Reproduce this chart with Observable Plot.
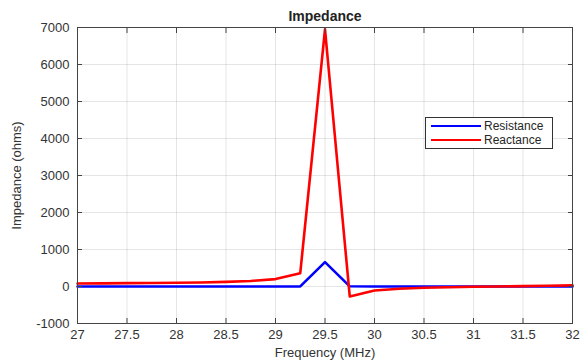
<!DOCTYPE html>
<html><head><meta charset="utf-8">
<script src="https://cdn.jsdelivr.net/npm/d3@7"></script>
<script src="https://cdn.jsdelivr.net/npm/@observablehq/plot@0.6"></script>
<style>
body{margin:0;background:#fff;font-family:"Liberation Sans",Arial,sans-serif;}
#wrap{position:relative;width:582px;height:360px;}
#legend{position:absolute;left:425px;top:117px;width:128px;height:32px;border:1px solid #333;background:#fff;font-size:12px;color:#262626;box-sizing:border-box;}
.row{position:absolute;left:5px;height:14px;display:flex;align-items:center;}
.sw{width:50px;height:0;border-top:2.5px solid;margin-right:3px;}
</style></head>
<body><div id="wrap"><div id="legend"></div></div>
<script>
const freq = [27,27.25,27.5,27.75,28,28.25,28.5,28.75,29,29.25,29.5,29.75,30,30.25,30.5,30.75,31,31.25,31.5,31.75,32];
const resistance = [0,0,0,0,0,0,0,0,0,2,660,5,0,0,0,0,0,0,0,0,0];
const reactance = [80,85,90,95,100,110,125,150,200,360,6950,-270,-110,-60,-35,-20,-8,0,10,20,30];
const seriesNames = ["Resistance","Reactance"];
const seriesColors = ["#0000ff","#ff0000"];
const xTicks = [27,27.5,28,28.5,29,29.5,30,30.5,31,31.5,32];
const yTicks = [-1000,0,1000,2000,3000,4000,5000,6000,7000];

const rows = [];
freq.forEach((f,i)=>{
  rows.push({f, v: resistance[i], s: seriesNames[0]});
  rows.push({f, v: reactance[i], s: seriesNames[1]});
});

const axisColor = "#444";
const chart = Plot.plot({
  width:582, height:360,
  marginLeft:77, marginRight:10, marginTop:27, marginBottom:37,
  style:{fontFamily:"'Liberation Sans', Arial, sans-serif", fontSize:"13px", color:"#333", background:"#fff"},
  x:{domain:[27,32]},
  y:{domain:[-1000,7000]},
  color:{domain:seriesNames, range:seriesColors},
  marks:[
    Plot.gridX(xTicks,{stroke:"#000", strokeOpacity:0.1}),
    Plot.gridY(yTicks,{stroke:"#000", strokeOpacity:0.1}),
    Plot.line(rows,{x:"f", y:"v", z:"s", stroke:"s", strokeWidth:2.6}),
    Plot.frame({stroke:axisColor, strokeWidth:1}),
    Plot.axisX(xTicks,{anchor:"bottom", tickSize:-5, text:null, label:null, stroke:axisColor}),
    Plot.axisX(xTicks,{anchor:"top", tickSize:-5, text:null, label:null, stroke:axisColor}),
    Plot.axisY(yTicks,{anchor:"left", tickSize:-5, text:null, label:null, stroke:axisColor}),
    Plot.axisY(yTicks,{anchor:"right", tickSize:-5, text:null, label:null, stroke:axisColor}),
    Plot.axisX(xTicks,{anchor:"bottom", tickSize:0, tickPadding:6, fill:"#333", fontSize:13, label:"Frequency (MHz)", labelAnchor:"center", labelOffset:33, labelArrow:"none", tickFormat:d=>String(d)}),
    Plot.axisY(yTicks,{anchor:"left", tickSize:0, tickPadding:8, fill:"#333", fontSize:13, label:"Impedance (ohms)", labelAnchor:"center", labelOffset:66, labelArrow:"none", tickFormat:d=>String(d)}),
    Plot.text(["Impedance"],{frameAnchor:"top", lineAnchor:"middle", dy:-11, fontWeight:"bold", fontSize:14, fill:"#222"})
  ]
});
const wrap = document.getElementById("wrap");
wrap.insertBefore(chart, wrap.firstChild);
const leg = document.getElementById("legend");
seriesNames.forEach((n,i)=>{
  const r = document.createElement("div");
  r.className="row"; r.style.top = (1+i*14)+"px";
  r.innerHTML = `<span class="sw" style="border-color:${seriesColors[i]}"></span><span>${n}</span>`;
  leg.appendChild(r);
});
</script></body></html>
